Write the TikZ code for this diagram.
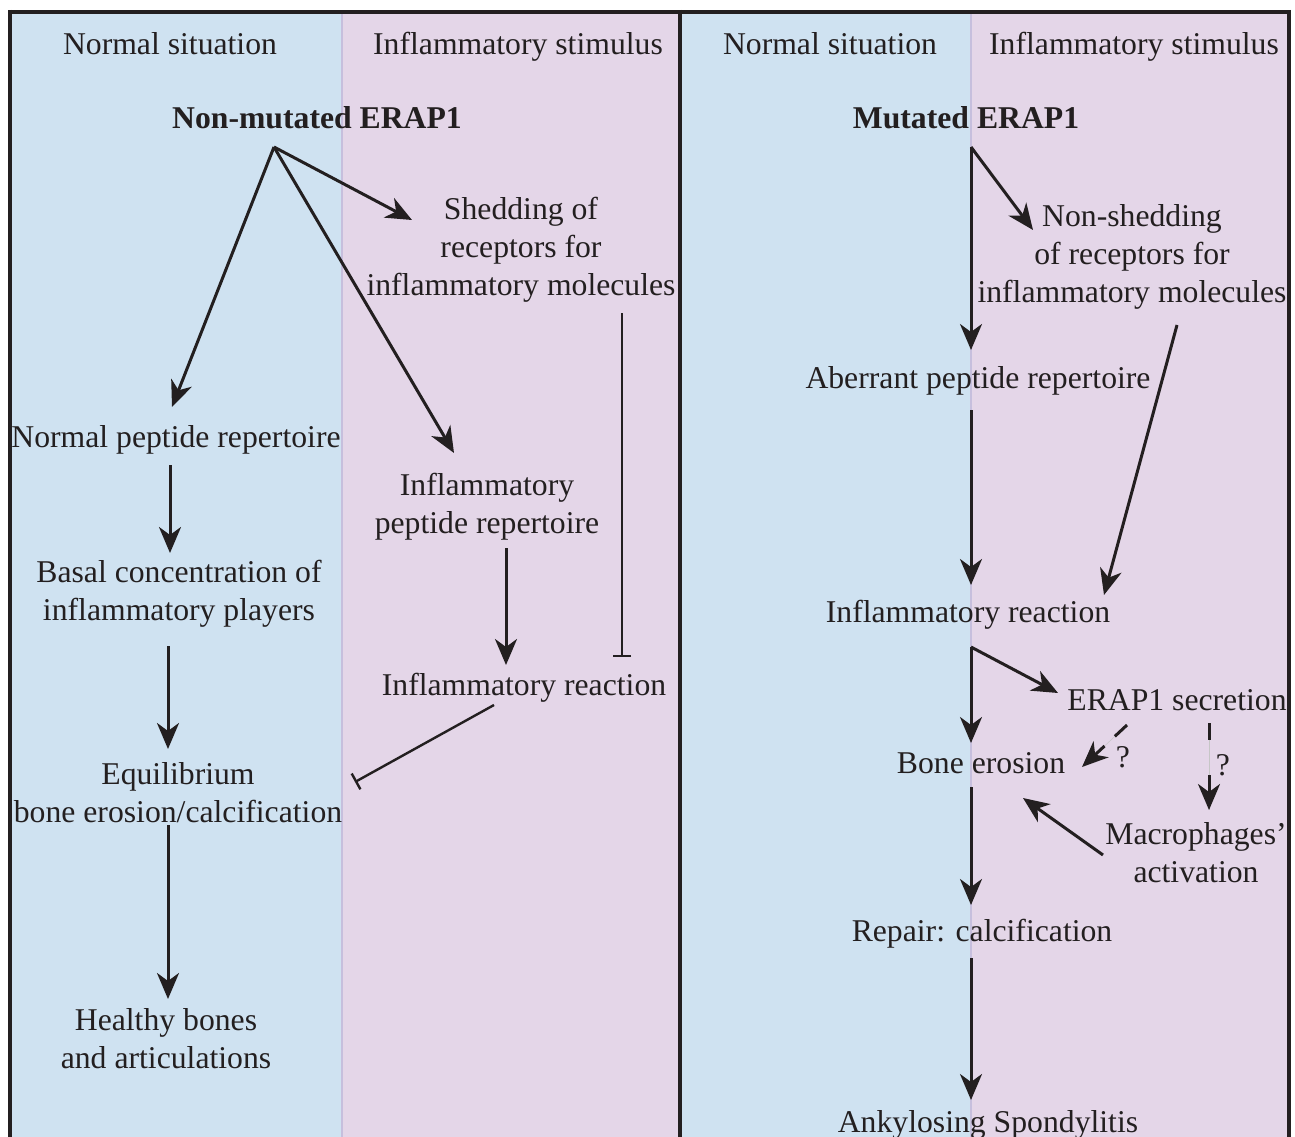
\documentclass[tikz,border=0pt]{standalone}
\usepackage{fontspec}
\setmainfont{Liberation Serif}
\usetikzlibrary{arrows.meta,calc}
\definecolor{bgblue}{HTML}{CFE2F1}
\definecolor{bgpink}{HTML}{E4D6E8}
\definecolor{divline}{HTML}{C6BFDD}
\definecolor{ink}{HTML}{231F20}
\newcommand{\mysz}{\fontsize{31.7}{38}\selectfont}
\begin{document}
\begin{tikzpicture}[x=1pt,y=-1pt,
  lbl/.style={font=\mysz, text=ink, align=center, inner sep=0pt, yshift=-3pt, execute at begin node=\strut},
  bold/.style={lbl, font=\mysz\bfseries},
  arr/.style={draw=ink, line width=3pt, -{Stealth[length=26pt,width=22pt,inset=8pt]}},
  inh/.style={draw=ink, line width=2.4pt, -{Bar[width=18pt]}},
  dsh/.style={draw=ink, line width=3pt},
  faint/.style={draw=gray!45, line width=0.5pt}
]
\useasboundingbox (0,0) rectangle (1295,1137);
\clip (0,0) rectangle (1295,1137);
% backgrounds
\fill[bgblue] (10,12) rectangle (342,1140);
\fill[bgpink] (342,12) rectangle (680,1140);
\fill[bgblue] (680,12) rectangle (971,1140);
\fill[bgpink] (971,12) rectangle (1289,1140);
\draw[divline, line width=2pt] (342,12) -- (342,1140);
\draw[divline, line width=2pt] (971,12) -- (971,1140);
% frame
\draw[ink, line width=4pt] (8,12) -- (1291,12);
\draw[ink, line width=4pt] (10,10) -- (10,1140);
\draw[ink, line width=4pt] (680,10) -- (680,1140);
\draw[ink, line width=4pt] (1289,10) -- (1289,1140);

% ---------- left panel ----------
\node[lbl] (ns1) at (170,44) {Normal situation};
\node[lbl] (is1) at (518,44) {Inflammatory stimulus};
\node[bold] (erap) at (317,118) {Non-mutated ERAP1};
\node[lbl] (shed) at (521,249) {Shedding of\\\strut receptors for\\\strut inflammatory molecules};
\node[lbl] (npr) at (176,437) {Normal peptide repertoire};
\node[lbl] (ipr) at (487,506) {Inflammatory\\\strut peptide repertoire};
\node[lbl] (basal) at (179,593) {Basal concentration of\\\strut inflammatory players};
\node[lbl] (ir1) at (524,685) {Inflammatory reaction};
\node[lbl] (equil) at (178,795) {Equilibrium\\\strut bone erosion/calcification};
\node[lbl] (healthy) at (166,1041) {Healthy bones\\\strut and articulations};

\coordinate (erapO) at (274,147);
\coordinate (nprT) at (172,407);
\coordinate (shedT) at (412,220);
\coordinate (iprT) at (454,453);
\coordinate (nprB) at (170,465);
\coordinate (basalT) at (170,553);
\coordinate (basalB) at (168,646);
\coordinate (equilT) at (168,749);
\coordinate (equilB) at (168,825);
\coordinate (healthyT) at (168,999);
\coordinate (iprB) at (506,548);
\coordinate (ir1T) at (506,665);
\coordinate (shedB) at (622,313);
\coordinate (ir1R) at (622,657);
\coordinate (ir1B) at (494,705);
\coordinate (equilR) at (355,782);

\draw[arr] (erapO) -- (nprT);
\draw[arr] (erapO) -- (shedT);
\draw[arr] (erapO) -- (iprT);
\draw[arr] (nprB) -- (basalT);
\draw[arr] (basalB) -- (equilT);
\draw[arr] (equilB) -- (healthyT);
\draw[arr] (iprB) -- (ir1T);
\draw[inh] (shedB) -- (ir1R);
\draw[inh] (ir1B) -- (equilR);

% ---------- right panel ----------
\node[lbl] (ns2) at (830,44) {Normal situation};
\node[lbl] (is2) at (1134,44) {Inflammatory stimulus};
\node[bold] (merap) at (966,118) {Mutated ERAP1};
\node[lbl] (nonshed) at (1132,256) {Non-shedding\\\strut of receptors for\\\strut inflammatory molecules};
\node[lbl] (apr) at (978,378) {Aberrant peptide repertoire};
\node[lbl] (ir2) at (968,612) {Inflammatory reaction};
\node[lbl] (sec) at (1177,700) {ERAP1 secretion};
\node[lbl] (bone) at (981,763) {Bone erosion};
\node[lbl] (macro) at (1196,855) {Macrophages’\\\strut activation};
\node[lbl] (repair) at (982,931) {Repair: calcification};
\node[lbl] (ankyl) at (988,1122) {Ankylosing Spondylitis};
\node[lbl] (q1) at (1123,757) {?};
\node[lbl] (q2) at (1223,765) {?};

\coordinate (merapO) at (971,147);
\coordinate (aprT) at (971,350);
\coordinate (nonshedT) at (1033,230);
\coordinate (aprB) at (971,410);
\coordinate (ir2T) at (971,585);
\coordinate (nonshedB) at (1177,325);
\coordinate (ir2TR) at (1104,595);
\coordinate (ir2B) at (971,647);
\coordinate (boneT) at (971,743);
\coordinate (secT) at (1058,693);
\coordinate (boneB) at (971,787);
\coordinate (repairT) at (971,905);
\coordinate (repairB) at (971,958);
\coordinate (ankylT) at (971,1100);
\coordinate (macroB) at (1103,855);
\coordinate (boneR) at (1023,798);
\coordinate (secBL) at (1127,725);
\coordinate (boneQ) at (1082,767);
\coordinate (secBR) at (1209,723);
\coordinate (macroT) at (1209,810);

\draw[arr] (merapO) -- (aprT);
\draw[arr] (merapO) -- (nonshedT);
\draw[arr] (aprB) -- (ir2T);
\draw[arr] (nonshedB) -- (ir2TR);
\draw[arr] (ir2B) -- (boneT);
\draw[arr] (ir2B) -- (secT);
\draw[arr] (boneB) -- (repairT);
\draw[arr] (repairB) -- (ankylT);
\draw[arr] (macroB) -- (boneR);
% dashed, uncertain links
\draw[faint] (secBL) -- (boneQ);
\draw[faint] (secBR) -- (macroT);
\draw[dsh] (secBL) -- ($(secBL)!0.27!(boneQ)$);
\draw[arr] ($(secBL)!0.5!(boneQ)$) -- (boneQ);
\draw[dsh] (secBR) -- ($(secBR)!0.19!(macroT)$);
\draw[arr] ($(secBR)!0.6!(macroT)$) -- (macroT);
\end{tikzpicture}
\end{document}
